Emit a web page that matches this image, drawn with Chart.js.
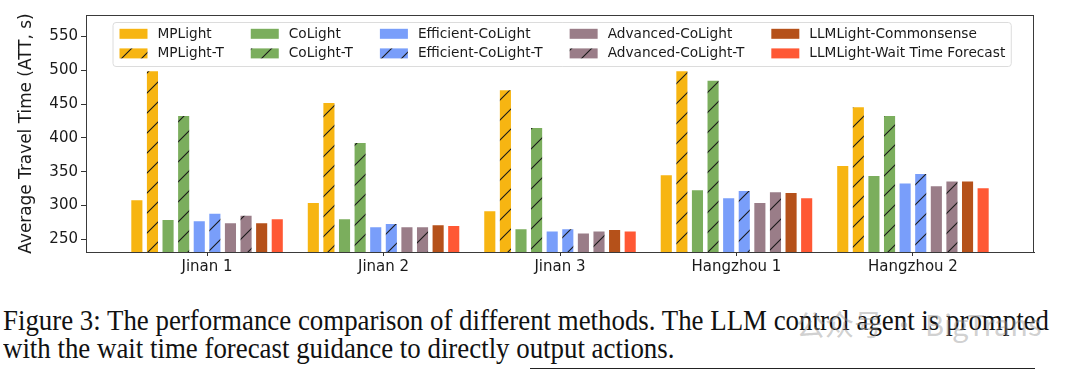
<!DOCTYPE html>
<html>
<head>
<meta charset="utf-8">
<script src="https://cdn.jsdelivr.net/npm/chart.js@4.4.1/dist/chart.umd.min.js"></script>
<style>
  html, body { margin: 0; padding: 0; background: #fff; }
  body { width: 1080px; height: 371px; position: relative; overflow: hidden; }
  #wrap { position: absolute; left: 0; top: 0; width: 1080px; height: 280px; }
  #caption {
    position: absolute; left: 3px; top: 305.8px; width: 1080px;
    font-family: "Liberation Serif", serif; font-size: 27px; line-height: 25px;
    color: #111; white-space: nowrap;
    transform-origin: 0 0; transform: scale(0.995, 1.12);
  }
  #mark {
    position: absolute; left: 796px; top: 302px;
    font-family: "Noto Sans CJK SC", sans-serif; font-size: 29px; color: rgba(150,150,150,0.45);
  }
  #rule { position: absolute; left: 530px; top: 368px; width: 505px; height: 1px; background: #222; }
</style>
</head>
<body>
<div id="wrap"><canvas id="barChart"></canvas></div>
<div id="caption">Figure 3: The performance comparison of different methods. The LLM control agent is prompted<br>with the wait time forecast guidance to directly output actions.</div>
<div id="mark">公众号 · BigTrans</div>
<div id="rule"></div>
<script>
  var categories = ['Jinan 1', 'Jinan 2', 'Jinan 3', 'Hangzhou 1', 'Hangzhou 2'];
  var yTicks = [250, 300, 350, 400, 450, 500, 550];

  var mplight = [309, 305, 293, 346, 360];
  var mplightT = [500, 453, 472, 500, 447];
  var colight = [280, 281, 266, 324, 345];
  var colightT = [434, 394, 416, 486, 434];
  var efficient = [278, 269, 263, 312, 334];
  var efficientT = [289, 274, 266, 323, 348];
  var advanced = [275, 269, 260, 305, 330];
  var advancedT = [286, 269, 263, 321, 337];
  var commonsense = [275, 272, 265, 320, 337];
  var waitForecast = [281, 271, 263, 312, 327];

  function getHatch(color) {
    var c = document.createElement('canvas');
    c.width = 20;
    c.height = 20;
    var g = c.getContext('2d');
    g.fillStyle = color;
    g.fillRect(0, 0, 20, 20);
    g.strokeStyle = '#1a1a1a';
    g.lineWidth = 1.1;
    g.beginPath();
    g.moveTo(0, 20); g.lineTo(20, 0);
    g.moveTo(-2, 2); g.lineTo(2, -2);
    g.moveTo(18, 22); g.lineTo(22, 18);
    g.stroke();
    return g.createPattern(c, 'repeat');
  }

  var series = [
    { label: 'MPLight', data: mplight, color: '#F7B512', hatch: false },
    { label: 'MPLight-T', data: mplightT, color: '#F7B512', hatch: true },
    { label: 'CoLight', data: colight, color: '#7BAE5D', hatch: false },
    { label: 'CoLight-T', data: colightT, color: '#7BAE5D', hatch: true },
    { label: 'Efficient-CoLight', data: efficient, color: '#799EFA', hatch: false },
    { label: 'Efficient-CoLight-T', data: efficientT, color: '#799EFA', hatch: true },
    { label: 'Advanced-CoLight', data: advanced, color: '#9A7D88', hatch: false },
    { label: 'Advanced-CoLight-T', data: advancedT, color: '#9A7D88', hatch: true },
    { label: 'LLMLight-Commonsense', data: commonsense, color: '#B5511A', hatch: false },
    { label: 'LLMLight-Wait Time Forecast', data: waitForecast, color: '#FF5834', hatch: false }
  ];

  var datasets = series.map(function (s) {
    return {
      label: s.label,
      data: s.data.map(function (v, i) { return { x: i, y: v }; }),
      backgroundColor: s.hatch ? getHatch(s.color) : s.color,
      borderColor: 'rgba(255,255,255,0.45)',
      borderWidth: 1,
      borderSkipped: 'bottom',
      categoryPercentage: 0.884,
      barPercentage: 0.84
    };
  });

  // matplotlib-like legend: 5 columns, filled column by column
  var legendPlugin = {
    id: 'boxLegend',
    afterDraw: function (chart) {
      var ctx = chart.ctx;
      var ds = chart.data.datasets;
      ctx.save();
      ctx.font = '13.7px "DejaVu Sans"';
      var cols = [];
      for (var c = 0; c < 5; c++) {
        var a = ds[c * 2], b = ds[c * 2 + 1];
        cols.push({ items: [a, b], w: Math.max(ctx.measureText(a.label).width, ctx.measureText(b.label).width) });
      }
      var boxLeft = 113, boxTop = 22.5, boxBottom = 66.5;
      var x = 119.5;
      var positions = [];
      cols.forEach(function (col) {
        positions.push(x);
        x += 38 + col.w + 27;
      });
      var boxRight = x - 27 + 6;
      ctx.fillStyle = 'rgba(255,255,255,0.85)';
      ctx.strokeStyle = '#dcdcdc';
      ctx.lineWidth = 1;
      ctx.beginPath();
      ctx.roundRect(boxLeft, boxTop, boxRight - boxLeft, boxBottom - boxTop, 3);
      ctx.fill();
      ctx.stroke();
      var rowsY = [33.8, 53.4];
      cols.forEach(function (col, ci) {
        col.items.forEach(function (d, ri) {
          var sx = positions[ci], sy = rowsY[ri];
          ctx.fillStyle = d.backgroundColor;
          ctx.fillRect(sx, sy - 5, 28, 10);
          ctx.fillStyle = '#1a1a1a';
          ctx.textBaseline = 'middle';
          ctx.textAlign = 'left';
          ctx.fillText(d.label, sx + 38, sy + 0.5);
        });
      });
      // frame box on top
      var ca = chart.chartArea;
      ctx.strokeStyle = '#3a3a3a';
      ctx.lineWidth = 1;
      ctx.strokeRect(ca.left + 0.5, ca.top + 0.5, ca.right - ca.left - 1, ca.bottom - ca.top);
      ctx.restore();
    }
  };

  var ctx = document.getElementById('barChart').getContext('2d');

  var barChart = new Chart(ctx, {
    type: 'bar',
    data: { datasets: datasets },
    plugins: [legendPlugin],
    options: {
      responsive: true,
      maintainAspectRatio: false,
      animation: false,
      layout: { padding: { left: 0, right: 46, top: 15, bottom: 0 } },
      plugins: { legend: { display: false }, tooltip: { enabled: false } },
      scales: {
        x: {
          type: 'linear',
          min: -0.686,
          max: 4.686,
          offset: false,
          afterBuildTicks: function (axis) {
            axis.ticks = categories.map(function (c, i) { return { value: i }; });
          },
          afterFit: function (axis) { axis.height = 28; },
          grid: { display: true, offset: false, drawOnChartArea: false, tickLength: 4, color: '#333', tickColor: '#333' },
          border: { display: true, color: '#333' },
          ticks: {
            autoSkip: false,
            maxRotation: 0,
            padding: 2,
            color: '#1a1a1a',
            font: { family: 'DejaVu Sans', size: 15 },
            callback: function (v) { return categories[v]; }
          }
        },
        y: {
          min: 231,
          max: 582,
          afterBuildTicks: function (axis) {
            axis.ticks = yTicks.map(function (v) { return { value: v }; });
          },
          afterFit: function (axis) { axis.width = 86; },
          grid: { display: true, drawOnChartArea: false, tickLength: 5, color: '#333', tickColor: '#333' },
          border: { display: true, color: '#333' },
          title: {
            display: true,
            text: 'Average Travel Time (ATT, s)',
            color: '#1a1a1a',
            font: { family: 'DejaVu Sans', size: 16.9 },
            padding: { top: 16.5, bottom: 0 }
          },
          ticks: {
            padding: 3,
            color: '#1a1a1a',
            font: { family: 'DejaVu Sans', size: 15 }
          }
        }
      }
    }
  });
</script>
</body>
</html>
